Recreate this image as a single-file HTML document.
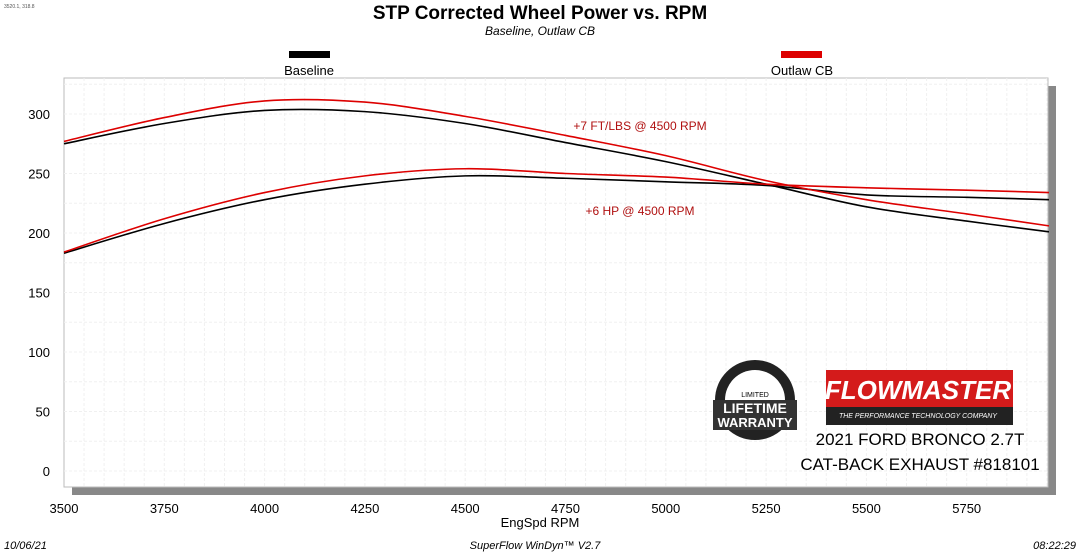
<!DOCTYPE html>
<html><head><meta charset="utf-8"><style>
body{margin:0;width:1080px;height:554px;background:#fff;overflow:hidden;font-family:"Liberation Sans",sans-serif;}
</style></head><body>
<svg id="s" width="1080" height="554" xmlns="http://www.w3.org/2000/svg" font-family="Liberation Sans, sans-serif">
<text x="4" y="8" font-size="5" fill="#555">3520.1, 318.8</text>
<text x="540" y="19" font-size="19" font-weight="bold" text-anchor="middle">STP Corrected Wheel Power vs. RPM</text>
<text x="540" y="35" font-size="12" font-style="italic" text-anchor="middle">Baseline, Outlaw CB</text>
<rect x="289" y="51" width="41" height="7" fill="#000"/>
<text x="309" y="75" font-size="13" text-anchor="middle">Baseline</text>
<rect x="781" y="51" width="41" height="7" fill="#d00"/>
<text x="802" y="75" font-size="13" text-anchor="middle">Outlaw CB</text>
<rect x="72" y="86" width="984" height="409" fill="#888"/>
<rect x="64" y="78" width="984" height="409" fill="#fff" stroke="#bbb" stroke-width="1"/>
<g id="grid" stroke="#f0f0f0" stroke-width="1" stroke-dasharray="3,2"></g>
<g id="curves" fill="none" stroke-width="1.6"></g>
<g font-size="13" text-anchor="end" id="yl"></g>
<g font-size="13" text-anchor="middle" id="xl"></g>
<text x="540" y="527" font-size="13" text-anchor="middle">EngSpd  RPM</text>
<text x="4" y="549" font-size="11" font-style="italic">10/06/21</text>
<text x="535" y="549" font-size="11" font-style="italic" text-anchor="middle">SuperFlow WinDyn™  V2.7</text>
<text x="1076" y="549" font-size="11" font-style="italic" text-anchor="end">08:22:29</text>
<text x="640" y="130" font-size="12" fill="#b01010" text-anchor="middle">+7 FT/LBS @ 4500 RPM</text>
<text x="640" y="215" font-size="12" fill="#b01010" text-anchor="middle">+6 HP @ 4500 RPM</text>
<circle cx="755" cy="400" r="40" fill="#222"/>
<circle cx="755" cy="400" r="30" fill="#fff"/>
<rect x="713" y="400" width="84" height="30" fill="#333"/>
<text x="755" y="413" font-size="14" font-weight="bold" fill="#fff" text-anchor="middle">LIFETIME</text>
<text x="755" y="427" font-size="13" font-weight="bold" fill="#fff" text-anchor="middle">WARRANTY</text>
<text x="755" y="397" font-size="7" text-anchor="middle">LIMITED</text>
<rect x="826" y="370" width="187" height="55" fill="#222"/>
<rect x="826" y="370" width="187" height="37" fill="#d41b1b"/>
<text x="918" y="399" font-size="26" font-weight="bold" font-style="italic" fill="#fff" text-anchor="middle">FLOWMASTER</text>
<text x="918" y="418" font-size="7" font-style="italic" fill="#fff" text-anchor="middle">THE PERFORMANCE TECHNOLOGY COMPANY</text>
<text x="920" y="445" font-size="17" text-anchor="middle">2021 FORD BRONCO 2.7T</text>
<text x="920" y="470" font-size="17" text-anchor="middle">CAT-BACK EXHAUST #818101</text>
</svg>
<script>
var NS="http://www.w3.org/2000/svg";
function X(r){return 64+(r-3500)*0.4012;}function Y(v){return 471-v*1.19;}
function el(p,t,a,txt){var e=document.createElementNS(NS,t);for(var k in a)e.setAttribute(k,a[k]);if(txt)e.textContent=txt;document.getElementById(p).appendChild(e);}
for(var r=3550;r<5960;r+=50)el("grid","line",{x1:X(r),x2:X(r),y1:78,y2:487});
for(var v=0;v<=325;v+=25)el("grid","line",{x1:64,x2:1048,y1:Y(v),y2:Y(v)});
for(var v=0;v<=300;v+=50)el("yl","text",{x:50,y:Y(v)+5},""+v);
for(var r=3500;r<=5750;r+=250)el("xl","text",{x:X(r),y:513},""+r);
var R=[3500,3750,4000,4250,4500,4750,5000,5250,5500,5750,5955];
var S=[
["#000",[275,292,303,302,292,276,260,241,222,210,201]],
["#000",[183,208,228,241,248,246,243,240,232,230,228]],
["#d00",[277,297,311,310,298,282,265,244,228,216,206]],
["#d00",[184,212,234,248,254,250,247,241,238,236,234]]];
S.forEach(function(s){var p=s[1].map(function(v,i){return [X(R[i]),Y(v)];});
var d="M"+p[0];for(var i=0;i<p.length-1;i++){var a=p[Math.max(i-1,0)],b=p[i],c=p[i+1],e=p[Math.min(i+2,p.length-1)];
d+=" C"+(b[0]+(c[0]-a[0])/6)+","+(b[1]+(c[1]-a[1])/6)+" "+(c[0]-(e[0]-b[0])/6)+","+(c[1]-(e[1]-b[1])/6)+" "+c[0]+","+c[1];}
el("curves","path",{d:d,stroke:s[0]});});
</script>
</body></html>
